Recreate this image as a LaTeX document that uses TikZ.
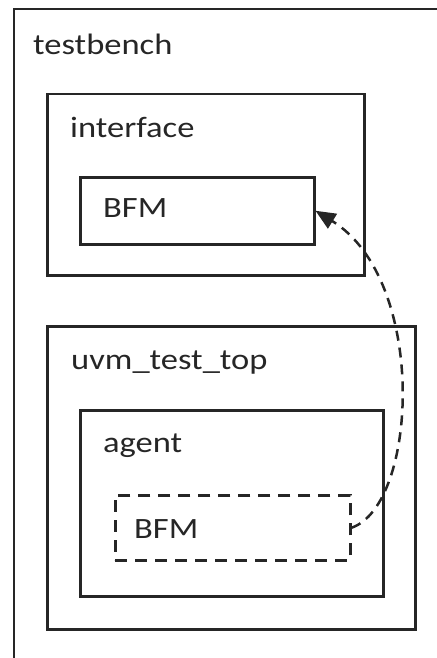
\documentclass[tikz,border=0pt]{standalone}
\usepackage{fontspec}
\setmainfont{Carlito}
\usetikzlibrary{arrows.meta}
\definecolor{ink}{HTML}{262626}
\tikzset{
  box/.style={draw=ink, line width=2.5pt},
  dbox/.style={draw=ink, line width=2.5pt, dash pattern=on 12pt off 8pt},
  lbl/.style={anchor=base west, inner sep=0pt, text=ink, font=\fontsize{29.5pt}{32pt}\selectfont},
  link/.style={draw=ink, line width=2.5pt, dash pattern=on 10pt off 7pt, -{Triangle[length=20pt,width=17pt]}}
}
\newcommand{\wtxt}[1]{\scalebox{1.17}[1]{#1}}
\begin{document}
\begin{tikzpicture}[x=1pt,y=-1pt]
\useasboundingbox (0,0) rectangle (436,658);
\coordinate (obl) at (14,658);
\coordinate (otl) at (14,9);
\coordinate (otr) at (436,9);
\draw[box, line cap=rect] (obl) -- (otl) -- (otr);
\node[lbl] (tb) at (33,55) {\wtxt{testbench}};
% interface
\node[box, minimum width=317pt, minimum height=181pt, anchor=north west, inner sep=0pt] (ifc) at (46,93) {};
\node[lbl] (iflbl) at (70,138) {\wtxt{interface}};
\node[box, minimum width=234pt, minimum height=67pt, anchor=north west, inner sep=0pt] (bfm1) at (79,176) {};
\node[lbl] (bfm1t) at (103,217) {\wtxt{BFM}};
% uvm_test_top
\node[box, minimum width=368pt, minimum height=303pt, anchor=north west, inner sep=0pt] (uvm) at (46,325) {};
\node[lbl] (uvmt) at (71,369) {\wtxt{uvm\_test\_top}};
% agent
\node[box, minimum width=303pt, minimum height=186pt, anchor=north west, inner sep=0pt] (ag) at (79,409) {};
\node[lbl] (agt) at (103,452) {\wtxt{agent}};
\node[dbox, minimum width=235pt, minimum height=65pt, anchor=north west, inner sep=0pt] (bfm2) at (114,494) {};
\node[lbl] (bfm2t) at (134,538) {\wtxt{BFM}};
% connector
\draw[link] (bfm2.east) .. controls (418,505) and (428,280) .. (bfm1.east);
\end{tikzpicture}
\end{document}
